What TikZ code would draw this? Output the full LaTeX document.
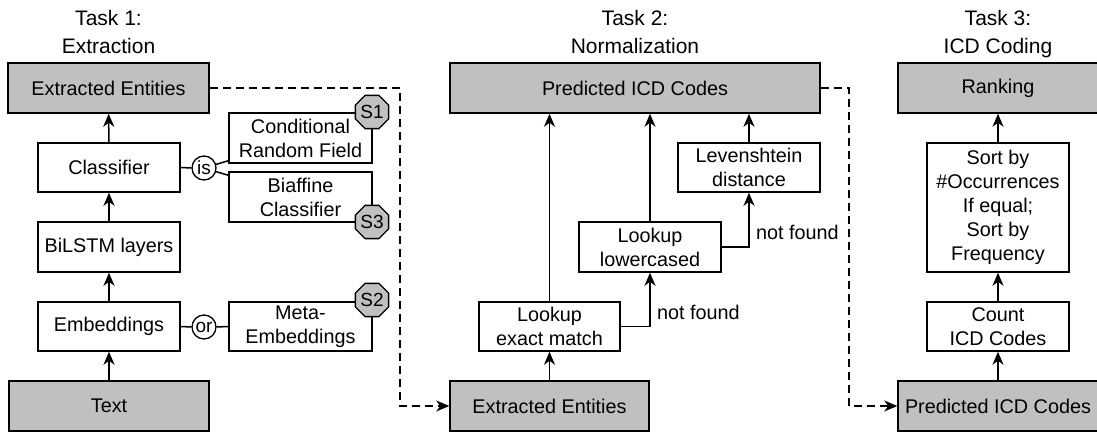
\documentclass[tikz,border=0pt]{standalone}
\usepackage{fontspec}
\setmainfont{Liberation Sans}
\usetikzlibrary{arrows.meta,shapes.geometric,calc}
\definecolor{boxgray}{HTML}{C0C0C0}
\begin{document}
\begin{tikzpicture}[x=1pt,y=-1pt,
  box/.style={draw,line width=1.5pt,rectangle,inner sep=0pt,align=center,
    font=\fontsize{19.8}{24}\selectfont},
  gbox/.style={box,fill=boxgray},
  title/.style={align=center,inner sep=0pt,font=\fontsize{21}{28}\selectfont},
  lbl/.style={inner sep=0pt,font=\fontsize{19.8}{24}\selectfont},
  oct/.style={draw,line width=1.3pt,fill=boxgray,regular polygon,regular polygon sides=8,
    minimum size=36pt,inner sep=0pt,font=\fontsize{19}{20}\selectfont},
  circ/.style={draw,line width=1.3pt,circle,minimum size=24pt,inner sep=0pt,fill=white,
    font=\fontsize{19}{20}\selectfont},
  arr/.style={-{Stealth[length=13pt,width=11pt,inset=4pt]},line width=1.5pt},
  ln/.style={line width=1.5pt},
  dsh/.style={-{Stealth[length=13pt,width=11pt,inset=4pt]},line width=1.4pt,dash pattern=on 8pt off 5pt}
]
\useasboundingbox (0,0) rectangle (1097,432);
% titles
\node[title,anchor=base] (t1) at (108.5,53) {Task 1:\\Extraction};
\node[title,anchor=base] (t2) at (635,53) {Task 2:\\Normalization};
\node[title,anchor=base] (t3) at (998,53) {Task 3:\\ICD Coding};
% Task 1
\node[gbox,minimum width=201pt,minimum height=50pt] (ee1) at (108.5,88) {Extracted Entities};
\node[box,minimum width=142pt,minimum height=49pt] (cls) at (109,167.5) {Classifier};
\node[box,minimum width=142pt,minimum height=50pt] (bil) at (109,247) {BiLSTM layers};
\node[box,minimum width=142pt,minimum height=49pt] (emb) at (109,326.5) {Embeddings};
\node[gbox,minimum width=200pt,minimum height=50pt] (txt) at (109,406) {Text};
\node[box,minimum width=143pt,minimum height=50pt] (crf) at (300.5,138) {Conditional\\Random Field};
\node[box,minimum width=143pt,minimum height=50pt] (bia) at (300.5,197) {Biaffine\\Classifier};
\node[box,minimum width=143pt,minimum height=49pt] (meta) at (300.5,326.5) {Meta-\\Embeddings};
\node[circ] (is) at (204,168) {is};
\node[circ] (or) at (204,327) {or};
\node[oct] (s1) at (372,112) {S1};
\node[oct] (s3) at (372,222) {S3};
\node[oct] (s2) at (372,300) {S2};
\draw[arr] (txt) -- (emb);
\draw[arr] (emb) -- (bil);
\draw[arr] (bil) -- (cls);
\draw[arr] (cls) -- (ee1);
\draw[ln] (cls.east) -- (is.west);
\draw[ln] (is) -- ($(crf.south west)+(0,-3)$);
\draw[ln] (is) -- ($(bia.north west)+(0,4)$);
\draw[ln] (emb.east) -- (or.west);
\draw[ln] (or.east) -- (meta.west);
% Task 2
\node[gbox,minimum width=370pt,minimum height=50pt] (pred) at (635,88) {Predicted ICD Codes};
\node[gbox,minimum width=199pt,minimum height=50pt] (ee2) at (549.5,406) {Extracted Entities};
\node[box,minimum width=141pt,minimum height=49pt] (lem) at (549.5,326.5) {Lookup\\exact match};
\node[box,minimum width=142pt,minimum height=50pt] (low) at (650,247) {Lookup\\lowercased};
\node[box,minimum width=142pt,minimum height=49pt] (lev) at (749,167.5) {Levenshtein\\distance};
\draw[arr] (ee2.north -| lem) -- (lem);
\draw[arr] (lem) -- (lem |- pred.south);
\draw[arr] (low) -- (low |- pred.south);
\draw[arr] (lev) -- (lev |- pred.south);
\draw[arr] (lem.east) -| (low.south);
\draw[arr] (low.east) -| (lev.south);
\node[lbl,anchor=west] (nf1) at (657,312) {not found};
\node[lbl,anchor=west] (nf2) at (756,232) {not found};
\coordinate (d1a) at (400,88);
\coordinate (d1b) at (400,406);
\draw[dsh] (ee1.east) -- (d1a) -- (d1b) -- (ee2.west);
% Task 3
\node[gbox,minimum width=200pt,minimum height=50pt] (rank) at (998,88) {Ranking};
\node[box,minimum width=142pt,minimum height=129pt] (sort) at (998,207.5) {Sort by\\\#Occurrences\\If equal;\\Sort by\\Frequency};
\node[box,minimum width=142pt,minimum height=49pt] (cnt) at (998,326.5) {Count\\ICD Codes};
\node[gbox,minimum width=200pt,minimum height=50pt] (pic) at (998,406) {Predicted ICD Codes};
\draw[arr] (pic) -- (cnt);
\draw[arr] (cnt) -- (sort);
\draw[arr] (sort) -- (rank);
\coordinate (d2a) at (849,88);
\coordinate (d2b) at (849,406);
\draw[dsh] (pred.east) -- (d2a) -- (d2b) -- (pic.west);
\end{tikzpicture}
\end{document}
